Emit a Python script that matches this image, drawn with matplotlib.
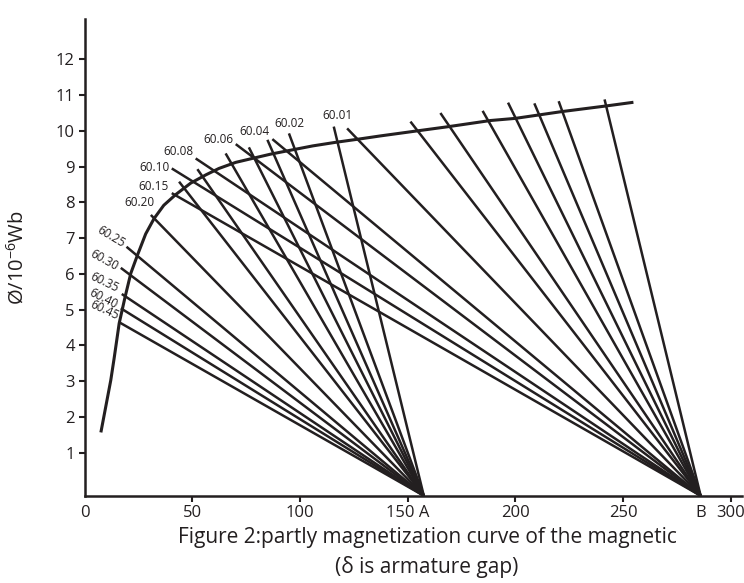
import matplotlib
matplotlib.use("Agg")
import matplotlib.pyplot as plt

plt.rcParams['font.family'] = ['Open Sans', 'DejaVu Sans']
plt.rcParams['mathtext.default'] = 'regular'

INK = '#231f20'

# magnetization curve
curve_x = [7.6, 12.2, 13.75, 16.1, 18.85, 21.5, 24.6, 28.4, 32.3, 36.8, 42.35, 49.3,
           56.3, 62.4, 70.2, 77.9, 86.4, 96.5, 105.9, 116.5, 127.2, 137.4, 154.4,
           169.1, 188.4, 200.0, 221.6, 242.5, 254.8]
curve_y = [1.57, 3.03, 3.64, 4.62, 5.36, 6.02, 6.53, 7.12, 7.55, 7.92, 8.22, 8.54,
           8.77, 8.95, 9.12, 9.23, 9.35, 9.47, 9.58, 9.68, 9.77, 9.86, 10.0,
           10.12, 10.29, 10.35, 10.54, 10.70, 10.80]

# pivot points on the x axis
A_X = 157.5
B_X = 286.0
pivot_y = -0.2

# start points of lines drawn to A
a_start_x = [16.1, 16.85, 17.3, 16.85, 19.5, 30.8, 43.9, 52.4, 65.5, 76.3, 84.9, 94.9, 115.7]
a_start_y = [4.65, 5.04, 5.44, 6.17, 6.76, 7.65, 8.58, 8.93, 9.37, 9.54, 9.75, 9.93, 10.12]

# start points of lines drawn to B
b_start_x = [40.5, 40.5, 51.6, 70.2, 87.2, 121.9, 151.3, 165.2, 184.8, 196.6, 208.8, 220.1, 241.4]
b_start_y = [8.26, 8.95, 9.23, 9.63, 9.77, 10.07, 10.26, 10.50, 10.56, 10.79, 10.77, 10.83, 10.88]

# curve labels
labels = ['60.01', '60.02', '60.04', '60.06', '60.08', '60.10', '60.15', '60.20',
          '60.25', '60.30', '60.35', '60.40', '60.45']
label_x = [117.3, 95.2, 79.0, 62.0, 43.6, 32.7, 31.8, 25.3,
           12.2, 9.1, 9.1, 8.6, 9.1]
label_y = [10.44, 10.21, 9.98, 9.75, 9.42, 8.97, 8.44, 7.99,
           7.04, 6.39, 5.76, 5.32, 5.0]
label_rot = [0, 0, 0, 0, 0, 0, 0, 0, -31, -29, -26, -27, -25]

x_ticks = [0, 50, 100, 150, 200, 250, 300]
x_tick_labels = ['0', '50', '100', '150 A', '200', '250', '300']
y_ticks = list(range(1, 13))

fig = plt.figure(figsize=(7.44, 5.83), dpi=100)
ax = fig.add_axes([84.5 / 744, 0.1497, (742 - 84.5) / 744, 0.8172])
ax.set_xlim(0.4, 305.2)
ax.set_ylim(pivot_y, 13.12)

lw = 1.8
for sx, sy in zip(a_start_x, a_start_y):
    ax.plot([sx, A_X], [sy, pivot_y], color=INK, lw=lw, solid_capstyle='butt')
for sx, sy in zip(b_start_x, b_start_y):
    ax.plot([sx, B_X], [sy, pivot_y], color=INK, lw=lw, solid_capstyle='butt')
ax.plot(curve_x, curve_y, color=INK, lw=2.2, solid_capstyle='butt',
        solid_joinstyle='round')

for t, x, y, r in zip(labels, label_x, label_y, label_rot):
    ax.text(x, y, t, fontsize=8.5, color=INK, rotation=r, ha='center', va='center',
            rotation_mode='anchor')

for s in ['top', 'right']:
    ax.spines[s].set_visible(False)
for s in ['left', 'bottom']:
    ax.spines[s].set_linewidth(1.8)
    ax.spines[s].set_color(INK)

ax.set_xticks(x_ticks)
ax.set_xticklabels(x_tick_labels)
ax.set_yticks(y_ticks)
ax.set_yticklabels([str(v) for v in y_ticks])
ax.tick_params(axis='both', direction='out', length=4, width=1.5, color=INK,
               labelcolor=INK, labelsize=12, pad=3)
ax.xaxis.get_major_ticks()[0].tick1line.set_visible(False)

ax.annotate('B', xy=(B_X, pivot_y), xytext=(0, -7), textcoords='offset points',
            ha='center', va='top', fontsize=12, color=INK, annotation_clip=False)

fig.text(18 / 744, 1 - 258 / 583, 'Ø/10$^{-6}$Wb', rotation=90, ha='center', va='center',
         fontsize=14.5, color=INK)
fig.text(427 / 744, 1 - 537 / 583, 'Figure 2:partly magnetization curve of the magnetic',
         ha='center', va='center', fontsize=15, color=INK)
fig.text(427 / 744, 1 - 567 / 583, '(δ is armature gap)',
         ha='center', va='center', fontsize=15, color=INK)

fig.savefig('out.png', dpi=100)
